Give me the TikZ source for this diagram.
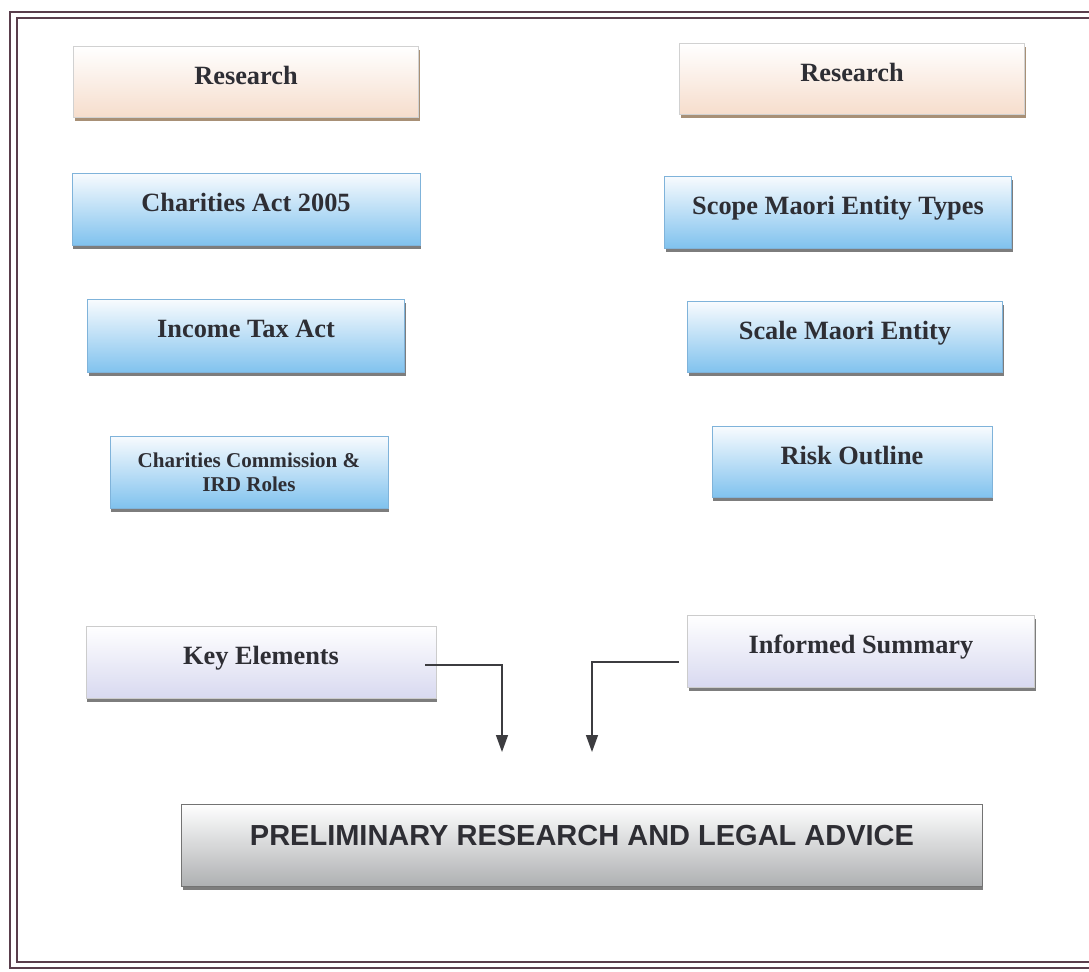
\documentclass[tikz,border=0pt]{standalone}
\usepackage{fontspec}
\setmainfont{Liberation Serif}
\newfontfamily\prelimfont{Liberation Sans}
\usetikzlibrary{arrows.meta,shadows}
\definecolor{frameline}{HTML}{5A3E4C}
\definecolor{boxtext}{HTML}{2E2E34}
\definecolor{bluetop}{HTML}{F8FBFE}
\definecolor{bluemid}{HTML}{CDE8F8}
\definecolor{bluebot}{HTML}{80C2EE}
\definecolor{blueedge}{HTML}{7FB3DA}
\definecolor{peachbot}{HTML}{F6DDCC}
\definecolor{lavbot}{HTML}{D8D9F0}
\definecolor{greybot}{HTML}{AEB0B2}
\definecolor{arrowline}{HTML}{3C3C40}
\tikzset{
  box/.style={minimum width=6.9cm, minimum height=1.42cm, inner sep=2pt,
              align=center, text=boxtext, text depth=8pt,
              font=\fontsize{15}{17}\selectfont\bfseries,
              drop shadow={shadow xshift=0.6pt, shadow yshift=-2pt, opacity=0.85, fill=black!60}},
  resbox/.style={box, draw=black!18, top color=white, bottom color=peachbot,
                 drop shadow={shadow xshift=0.6pt, shadow yshift=-2pt, opacity=0.85, fill=brown!70!black!65}},
  actbox/.style={box, draw=blueedge, top color=bluetop, middle color=bluemid, bottom color=bluebot},
  sumbox/.style={box, draw=black!20, top color=white, bottom color=lavbot},
  prelimbox/.style={box, draw=black!55, top color=white, bottom color=greybot, text depth=11pt,
                    font=\prelimfont\fontsize{16.5}{19}\selectfont\bfseries},
  flow/.style={draw=arrowline, line width=0.8pt, -{Triangle[width=0.24cm, length=0.34cm]}},
}

\begin{document}
\begin{tikzpicture}[x=0.02cm, y=-0.02cm]
    \useasboundingbox (0,0) rectangle (1089,971);
    % frame
    \draw[frameline, line width=1.6pt] (10,12) rectangle (1110,968);
    \draw[frameline, line width=0.6pt] (17,18) rectangle (1104,962);
    % left column
    \node[resbox] (resL) at (246,82) {Research};
    \node[actbox, minimum width=6.96cm, minimum height=1.44cm] (charact) at (246,209) {Charities Act 2005};
    \node[actbox, minimum width=6.34cm, minimum height=1.46cm] (taxact) at (246,336) {Income Tax Act};
    \node[actbox, minimum width=5.56cm, minimum height=1.44cm, text depth=0pt,
          font=\fontsize{12}{13.5}\selectfont\bfseries] (roles) at (249,472) {Charities Commission \&\\IRD Roles};
    \node[sumbox, minimum width=7.0cm, minimum height=1.44cm] (keyel) at (261,662) {Key Elements};
    % right column
    \node[resbox] (resR) at (852,79) {Research};
    \node[actbox, minimum width=6.94cm, minimum height=1.44cm] (scope) at (838,212) {Scope Maori Entity Types};
    \node[actbox, minimum width=6.3cm] (scale) at (845,337) {Scale Maori Entity};
    \node[actbox, minimum width=5.6cm] (risk) at (852,462) {Risk Outline};
    \node[sumbox, minimum width=6.94cm, minimum height=1.44cm] (summary) at (861,651) {Informed Summary};
    % result
    \node[prelimbox, minimum width=16.02cm, minimum height=1.64cm] (prelim) at (582,845) {PRELIMINARY RESEARCH AND LEGAL ADVICE};
    \coordinate (kend) at (502,752);
    \coordinate (send) at (592,752);
    \draw[flow] ([xshift=-0.22cm, yshift=-0.06cm]keyel.east) -| (kend);
    \draw[flow] ([xshift=-0.16cm, yshift=-0.22cm]summary.west) -| (send);
\end{tikzpicture}
\end{document}
